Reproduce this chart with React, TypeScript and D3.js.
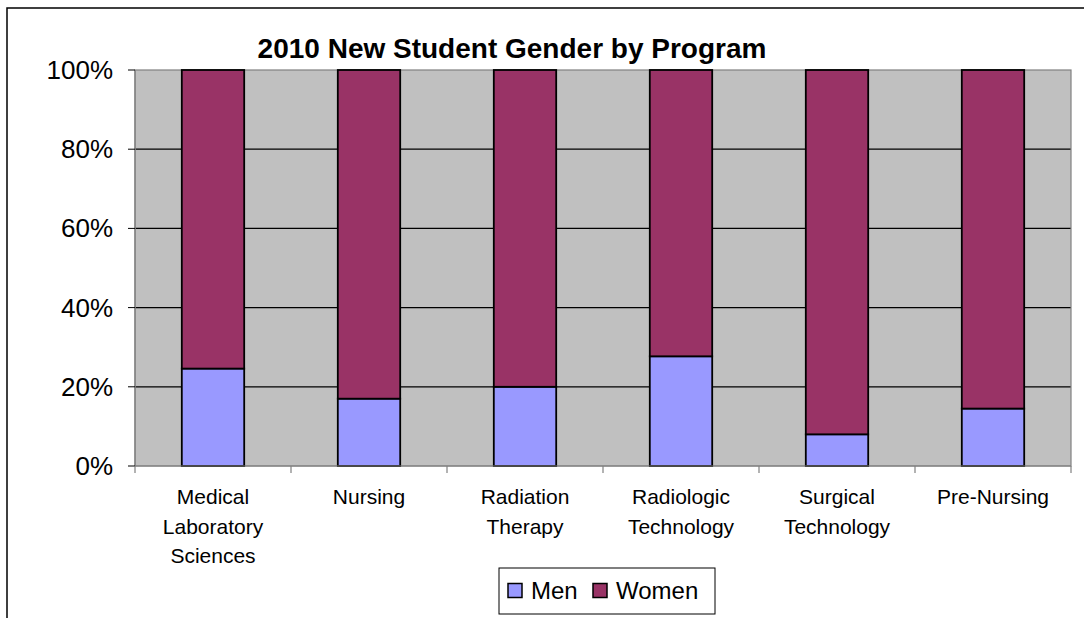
import React from 'react';
import * as d3 from 'd3';

const programs = [
  ['Medical', 'Laboratory', 'Sciences'],
  ['Nursing'],
  ['Radiation', 'Therapy'],
  ['Radiologic', 'Technology'],
  ['Surgical', 'Technology'],
  ['Pre-Nursing'],
];
const men = [24.6, 17.0, 20.0, 27.7, 8.0, 14.5];
const women = [75.4, 83.0, 80.0, 72.3, 92.0, 85.5];
const yTicks = [0, 20, 40, 60, 80, 100];
const seriesNames = ['Men', 'Women'];
const seriesColors = ['#9999FF', '#993366'];

const W = 1084;
const H = 618;
const plot = { left: 135, right: 1071, top: 70, bottom: 466 };
const font = 'Arial, "Liberation Sans", sans-serif';

export default function App() {
  const keys = programs.map((p) => p.join(' '));
  const rows = keys.map((k, i) => ({ key: k, Men: men[i], Women: women[i] }));
  const stacked = d3.stack<any>().keys(seriesNames)(rows);

  const x = d3.scaleBand()
    .domain(keys)
    .range([plot.left, plot.right])
    .paddingInner(0.6)
    .paddingOuter(0.3);
  const step = x.step();

  const y = d3.scaleLinear()
    .domain([0, 100])
    .range([plot.bottom, plot.top]);

  return (
    <svg width={W} height={H} style={{ position: 'absolute', left: 0, top: 0, background: '#fff' }}>
      {/* outer chart border (cropped on right and bottom) */}
      <rect x={7} y={8} width={W + 20} height={H + 20} fill="none" stroke="#000" strokeWidth={1.5} />

      <text x={512} y={58} textAnchor="middle" fontFamily={font} fontWeight="bold" fontSize={28} fill="#000">
        2010 New Student Gender by Program
      </text>

      {/* plot area */}
      <rect x={plot.left} y={plot.top} width={plot.right - plot.left} height={plot.bottom - plot.top} fill="#C0C0C0" />

      {yTicks.filter((t) => t > 0 && t < 100).map((t) => (
        <line key={'g' + t} x1={plot.left} x2={plot.right} y1={y(t)} y2={y(t)} stroke="#000" strokeWidth={1.2} />
      ))}

      <rect x={plot.left} y={plot.top} width={plot.right - plot.left} height={plot.bottom - plot.top} fill="none" stroke="#808080" strokeWidth={1.2} />

      {/* bars */}
      {stacked.map((s, si) => (
        <g key={s.key}>
          {s.map((d, i) => (
            <rect
              key={i}
              x={x(keys[i])!}
              y={y(d[1])}
              width={x.bandwidth()}
              height={y(d[0]) - y(d[1])}
              fill={seriesColors[si]}
              stroke="#000"
              strokeWidth={1.8}
            />
          ))}
        </g>
      ))}

      {/* y axis */}
      <line x1={plot.left} x2={plot.left} y1={plot.top} y2={plot.bottom} stroke="#808080" strokeWidth={1.2} />
      {yTicks.map((t) => (
        <g key={'y' + t}>
          <line x1={plot.left - 7} x2={plot.left} y1={y(t)} y2={y(t)} stroke="#000" strokeWidth={1} />
          <text x={113} y={y(t) + 9} textAnchor="end" fontFamily={font} fontSize={26} fill="#000">
            {t}%
          </text>
        </g>
      ))}

      {/* x axis */}
      <line x1={plot.left} x2={plot.right} y1={plot.bottom} y2={plot.bottom} stroke="#808080" strokeWidth={1.2} />
      {d3.range(keys.length + 1).map((i) => (
        <line key={'xt' + i} x1={plot.left + i * step} x2={plot.left + i * step} y1={plot.bottom} y2={plot.bottom + 7} stroke="#808080" strokeWidth={1.2} />
      ))}
      {programs.map((lines, i) => (
        <text key={'xl' + i} textAnchor="middle" fontFamily={font} fontSize={21} fill="#000">
          {lines.map((ln, j) => (
            <tspan key={j} x={x(keys[i])! + x.bandwidth() / 2} y={504 + j * 29.5}>{ln}</tspan>
          ))}
        </text>
      ))}

      {/* legend */}
      <rect x={499} y={568} width={216} height={46} fill="#fff" stroke="#000" strokeWidth={1} />
      {seriesNames.map((n, i) => {
        const sx = i === 0 ? 508 : 593;
        return (
          <g key={n}>
            <rect x={sx} y={583.5} width={14} height={14} fill={seriesColors[i]} stroke="#000" strokeWidth={1.5} />
            <text x={sx + 23} y={599} fontFamily={font} fontSize={24} fill="#000">{n}</text>
          </g>
        );
      })}
    </svg>
  );
}
